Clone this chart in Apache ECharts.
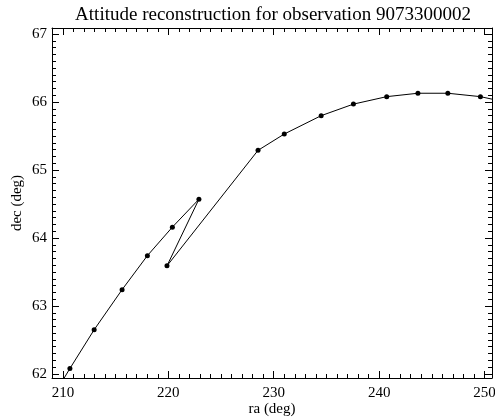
<!DOCTYPE html>
<html>
<head>
<meta charset="utf-8">
<script src="https://cdn.jsdelivr.net/npm/echarts@6/dist/echarts.min.js"></script>
<style>html,body{margin:0;padding:0;background:#fff}#c{width:495px;height:419px}</style>
</head>
<body>
<div id="c"></div>
<script>
// Data
const raValues  = [208.4, 210.66, 212.96, 215.61, 218.01, 220.38, 222.90, 219.87, 228.51, 231.00, 234.50, 237.56, 240.72, 243.68, 246.52, 249.61, 252.6];
const decValues = [61.50, 62.08, 62.65, 63.24, 63.74, 64.16, 64.57, 63.59, 65.29, 65.53, 65.80, 65.97, 66.08, 66.13, 66.13, 66.08, 65.98];
const titleText = 'Attitude reconstruction for observation 9073300002';
const xName = 'ra (deg)';
const yName = 'dec (deg)';
const xRange = [208.96, 250.71];
const yRange = [61.94, 67.09];

const points = raValues.map((r, i) => [r, decValues[i]]);
const FONT = 'Liberation Serif';
const tickColor = '#000';

function xAxisDef(pos, showLabel) {
  return {
    type: 'value', position: pos, min: xRange[0], max: xRange[1], splitNumber: 4,
    axisLine: { show: true, onZero: false, lineStyle: { color: '#000', width: 1 } },
    axisTick: { show: true, inside: true, length: 7, lineStyle: { color: tickColor } },
    minorTick: { show: true, splitNumber: 10, length: 4, lineStyle: { color: tickColor } },
    splitLine: { show: false },
    axisLabel: { show: showLabel, showMinLabel: false, showMaxLabel: false, margin: 8,
      color: '#000', fontFamily: FONT, fontSize: 15 },
    name: showLabel ? xName : '', nameLocation: 'middle', nameGap: 24, nameMoveOverlap: false,
    nameTextStyle: { color: '#000', fontFamily: FONT, fontSize: 15 }
  };
}
function yAxisDef(pos, showLabel) {
  return {
    type: 'value', position: pos, min: yRange[0], max: yRange[1], splitNumber: 5,
    axisLine: { show: true, onZero: false, lineStyle: { color: '#000', width: 1 } },
    axisTick: { show: true, inside: true, length: 7, lineStyle: { color: tickColor } },
    minorTick: { show: true, splitNumber: 10, length: 4, lineStyle: { color: tickColor } },
    splitLine: { show: false },
    axisLabel: { show: showLabel, showMinLabel: false, showMaxLabel: false, margin: 5,
      color: '#000', fontFamily: FONT, fontSize: 15 },
    name: showLabel ? yName : '', nameLocation: 'middle', nameGap: 27, nameRotate: 90, nameMoveOverlap: false,
    nameTextStyle: { color: '#000', fontFamily: FONT, fontSize: 15 }
  };
}

const chart = echarts.init(document.getElementById('c'), null, { renderer: 'canvas' });
chart.setOption({
  animation: false,
  backgroundColor: '#fff',
  title: {
    text: titleText, left: 268, top: 1, textAlign: 'center',
    textStyle: { color: '#000', fontFamily: FONT, fontSize: 19, fontWeight: 'normal' }
  },
  grid: { left: 52, right: 3, top: 28, bottom: 41, containLabel: false, outerBoundsMode: 'none' },
  xAxis: [xAxisDef('bottom', true), xAxisDef('top', false)],
  yAxis: [yAxisDef('left', true), yAxisDef('right', false)],
  series: [{
    type: 'line', xAxisIndex: 0, yAxisIndex: 0, data: points,
    clip: true, symbol: 'circle', symbolSize: 5, showAllSymbol: true,
    lineStyle: { color: '#000', width: 1 },
    itemStyle: { color: '#000' }
  }]
});
</script>
</body>
</html>
